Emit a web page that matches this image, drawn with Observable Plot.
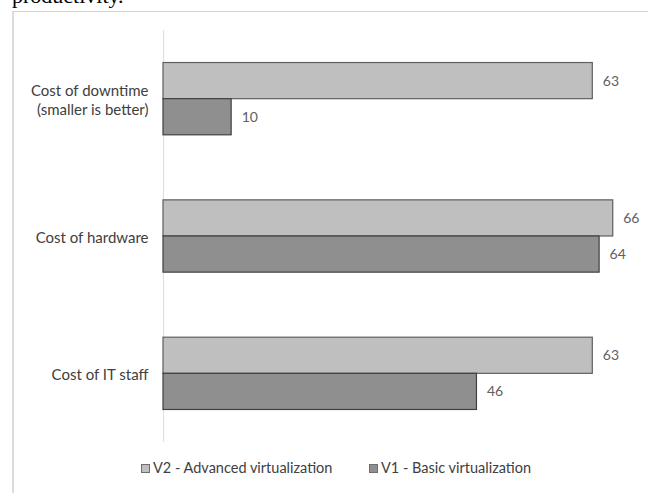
<!DOCTYPE html>
<html><head><meta charset="utf-8">
<script src="https://cdn.jsdelivr.net/npm/d3@7"></script>
<script src="https://cdn.jsdelivr.net/npm/@observablehq/plot@0.6"></script>
<style>
body{margin:0;width:648px;height:493px;overflow:hidden;background:#fff;position:relative;}
#top{position:absolute;left:12px;top:-17px;font-family:"Liberation Serif","Times New Roman",serif;font-size:22px;color:#000;}
#frame{position:absolute;left:12px;top:11px;width:700px;height:500px;border-top:1px solid #d4d4d4;border-left:2px solid #dcdcdc;}
#chart{position:absolute;left:0;top:0;}
#legend{position:absolute;left:0;top:459px;width:648px;font-family:Lato,sans-serif;font-size:14.5px;color:#404040;}
.item{position:absolute;top:0;white-space:nowrap;}
.sw{display:inline-block;width:7px;height:7px;border:1px solid #6f6f6f;margin-right:3px;vertical-align:0px;}
</style></head>
<body>
<div id="top">productivity.</div>
<div id="frame"></div>
<div id="chart"></div>
<div id="legend"></div>
<script>
const categories = ["Cost of downtime\n(smaller is better)", "Cost of hardware", "Cost of IT staff"];
const seriesNames = ["V2 - Advanced virtualization", "V1 - Basic virtualization"];
const seriesKeys = ["V2", "V1"];
const v2Values = [63, 66, 63];
const v1Values = [10, 64, 46];
const fills = ["#bfbfbf", "#8f8f8f"];
const strokes = ["#5f5f5f", "#404040"];

const data = [];
categories.forEach((c, i) => {
  data.push({cat: c, s: "V2", v: v2Values[i]});
  data.push({cat: c, s: "V1", v: v1Values[i]});
});

const chart = Plot.plot({
  width: 648,
  height: 455,
  marginLeft: 163,
  marginRight: 8,
  marginTop: 30,
  marginBottom: 13,
  style: {fontFamily: "Lato, sans-serif", background: "transparent"},
  x: {domain: [0, 70], axis: null},
  y: {domain: seriesKeys, paddingInner: 0, paddingOuter: 0.9, round: false, axis: null},
  fy: {domain: categories, padding: 0, round: false, label: null},
  color: {domain: seriesKeys, range: fills},
  marks: [
    Plot.ruleX([0], {stroke: "#e0e0e0", strokeWidth: 1.2}),
    Plot.barX(data, {x: "v", y: "s", fy: "cat", fill: "s", stroke: d => strokes[seriesKeys.indexOf(d.s)], strokeWidth: 1.2}),
    Plot.text(data, {x: "v", y: "s", fy: "cat", text: d => String(d.v), dx: 10, textAnchor: "start", fill: "#606060", fontSize: 14}),
    Plot.axisFy({anchor: "left", tickSize: 0, tickPadding: 15, fontSize: 15, color: "#404040", label: null, lineHeight: 1.3})
  ]
});
document.getElementById("chart").appendChild(chart);

const legend = document.getElementById("legend");
const lx = [141, 369];
seriesNames.forEach((n, i) => {
  const it = document.createElement("div");
  it.className = "item";
  it.style.left = lx[i] + "px";
  it.innerHTML = `<span class="sw" style="background:${fills[i]}"></span>${n}`;
  legend.appendChild(it);
});
</script>
</body></html>
